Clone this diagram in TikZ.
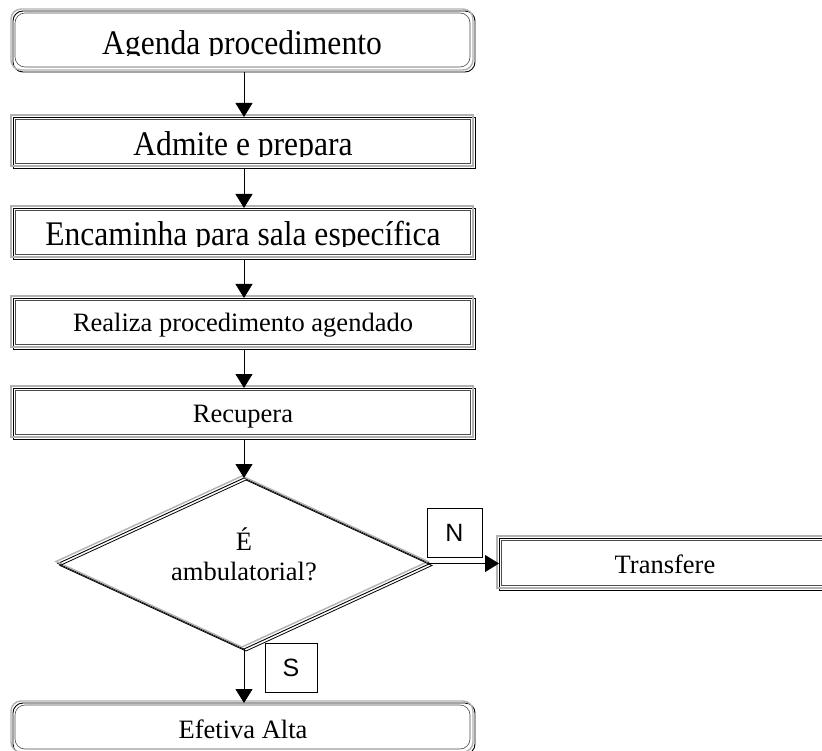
\documentclass[tikz,border=0pt]{standalone}
\usepackage{fontspec}
\setmainfont{Liberation Serif}
\newfontfamily\labelsans{Liberation Sans}
\usetikzlibrary{arrows.meta,shapes.geometric}

\tikzset{
  procbox/.style={draw=black, line width=0.9pt, rectangle, inner sep=0pt, outer sep=0pt},
  rimgray/.style={draw=gray!60, line width=1.4pt},
  riminner/.style={draw=black!70, line width=0.6pt},
  flow/.style={draw=black, line width=0.8pt, -{Triangle[width=17pt,length=14pt]}},
  bigtext/.style={inner sep=0pt, anchor=base, xscale=0.915, font=\fontsize{34.5}{38}\selectfont},
  stdtext/.style={inner sep=0pt, anchor=base, font=\fontsize{26.5}{30}\selectfont},
  tagbox/.style={draw=black, line width=0.8pt, inner sep=0pt, minimum width=55pt,
    minimum height=49pt, font=\labelsans\fontsize{25}{28}\selectfont},
}

% framed step box: #1 name, #2 x1, #3 y1, #4 x2, #5 y2, #6 extra options
\newcommand\flowbox[6]{%
  \node[procbox,#6, minimum width={#4-#2-2}, minimum height={#5-#3-2}]
    (#1) at ({(#2+2+#4)/2},{(#3+2+#5)/2}) {};
  \draw[rimgray,#6] ([shift={(-2,-2)}]#1.north west) rectangle ([shift={(-2,-2)}]#1.south east);
  \draw[riminner,#6] ([shift={(2,2)}]#1.north west) rectangle ([shift={(-5,-5)}]#1.south east);
}

\begin{document}
\begin{tikzpicture}[x=1pt,y=-1pt]
  \useasboundingbox (0,0) rectangle (822,751);
  \fill[white] (0,0) rectangle (822,751);

  % step boxes
  \flowbox{b1}{11}{9}{475}{72}{rounded corners=10pt}
  \flowbox{b2}{11}{115}{475}{168}{}
  \flowbox{b3}{11}{206}{475}{259}{}
  \flowbox{b4}{11}{296}{475}{349}{}
  \flowbox{b5}{11}{386}{475}{439}{}
  \flowbox{tr}{497}{536}{832}{590}{}
  \flowbox{ea}{11}{701}{475}{754}{rounded corners=10pt}

  % decision
  \node[draw=black, line width=0.9pt, diamond, minimum width=372pt, minimum height=171pt,
        inner sep=0pt, outer sep=0pt] (d) at (244,563.5) {};
  \draw[rimgray] ([shift={(-2,-2)}]d.north) -- ([shift={(-2,-2)}]d.east)
    -- ([shift={(-2,-2)}]d.south) -- ([shift={(-2,-2)}]d.west) -- cycle;
  \draw[black, line width=0.8pt] ([shift={(2,2)}]d.north) -- ([shift={(2,2)}]d.east)
    -- ([shift={(2,2)}]d.south) -- ([shift={(2,2)}]d.west) -- cycle;

  % texts of the upper boxes, cut at their lower edge
  \begin{scope}
    \clip (0,0) rectangle (822,55.6);
    \node[bigtext] (t1) at (242,55) {Agenda procedimento};
  \end{scope}
  \begin{scope}
    \clip (0,100) rectangle (822,156.6);
    \node[bigtext] (t2) at (243,156) {Admite e prepara};
  \end{scope}
  \begin{scope}
    \clip (0,190) rectangle (822,246.6);
    \node[bigtext] (t3) at (243,246) {Encaminha para sala específica};
  \end{scope}
  \node[stdtext] (t4) at (243,332) {Realiza procedimento agendado};
  \node[stdtext] (t5) at (243,422) {Recupera};
  \node[stdtext] (t6) at (665,573) {Transfere};
  \node[stdtext] (t7) at (243,738) {Efetiva Alta};
  \node[stdtext] (dq1) at (244,550) {É};
  \node[stdtext] (dq2) at (244,580) {ambulatorial?};

  % answer tags
  \node[tagbox] (n) at (454.5,532.5) {N};
  \node[tagbox, minimum width=52pt] (s) at (291,667.5) {S};

  % connectors
  \draw[flow] (b1.south) -- (b2.north);
  \draw[flow] (b2.south) -- (b3.north);
  \draw[flow] (b3.south) -- (b4.north);
  \draw[flow] (b4.south) -- (b5.north);
  \draw[flow] (b5.south) -- (d.north);
  \draw[flow] (d.east) -- (d.east -| tr.west);
  \draw[flow] (d.south) -- (ea.north);
\end{tikzpicture}
\end{document}
